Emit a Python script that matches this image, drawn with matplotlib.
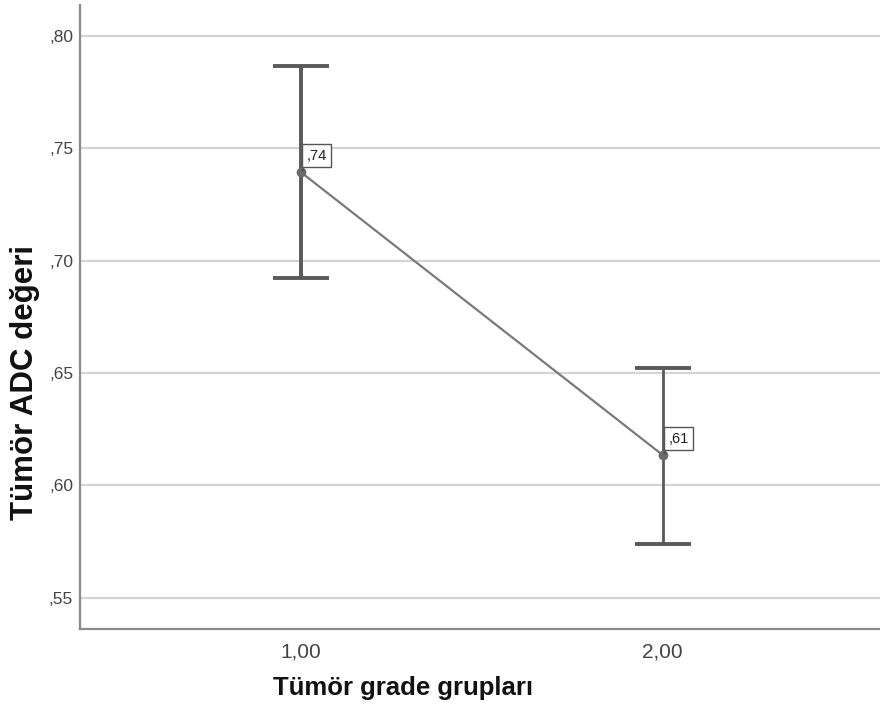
import matplotlib.pyplot as plt

groups = [1.0, 2.0]
group_labels = ['1,00', '2,00']
means = [0.7394, 0.6134]
ci_upper = [0.7868, 0.6523]
ci_lower = [0.6924, 0.5737]
mean_labels = [',74', ',61']
yticks = [0.55, 0.60, 0.65, 0.70, 0.75, 0.80]
ytick_labels = [',55', ',60', ',65', ',70', ',75', ',80']

plt.rcParams['font.family'] = ['Liberation Sans', 'DejaVu Sans']

fig = plt.figure(figsize=(8.8, 7.2), dpi=100)
ax = fig.add_axes([80 / 880, 91 / 720, 1 - 80 / 880, 624 / 720])

for y in yticks:
    ax.axhline(y, color='#d4d4d4', lw=1.6, zorder=0)

ax.plot(groups, means, color='#7a7a7a', lw=1.6, zorder=2)
widths = [2.8, 2.0]
for x, m, lo, hi, w in zip(groups, means, ci_lower, ci_upper, widths):
    ax.errorbar([x], [m], yerr=[[m - lo], [hi - m]], fmt='none',
                ecolor='#5a5a5a', elinewidth=w, capsize=20, capthick=2.8, zorder=3)
ax.plot(groups, means, 'o', color='#6a6a6a', ms=6, zorder=4)

for x, m, t in zip(groups, means, mean_labels):
    ax.annotate(t, xy=(x, m), xytext=(4, 9), textcoords='offset points',
                fontsize=10.5, color='#222222',
                bbox=dict(boxstyle='square,pad=0.3', fc='white', ec='#555555', lw=1),
                arrowprops=dict(arrowstyle='-', color='#555555', lw=2), zorder=5)

ax.set_xlim(0.39, 2.6)
ax.set_ylim(0.536, 0.8138)
ax.set_xticks(groups)
ax.set_xticklabels(group_labels, fontsize=15, color='#444444')
ax.set_yticks(yticks)
ax.set_yticklabels(ytick_labels, fontsize=12.5, color='#444444')
ax.tick_params(length=0)
ax.tick_params(axis='y', pad=5)
ax.tick_params(axis='x', pad=10)

for s in ['top', 'right']:
    ax.spines[s].set_visible(False)
for s in ['left', 'bottom']:
    ax.spines[s].set_color('#8a8a8a')
    ax.spines[s].set_linewidth(1.6)

fig.text(403 / 880, 1 - 688 / 720, 'Tümör grade grupları', ha='center', va='center',
         fontsize=18.5, fontweight='bold', color='#111111')
fig.text(25 / 880, 1 - 383 / 720, 'Tümör ADC değeri', ha='center', va='center',
         rotation=90, fontsize=22.5, fontweight='bold', color='#111111')

fig.savefig('out.png', dpi=100)
